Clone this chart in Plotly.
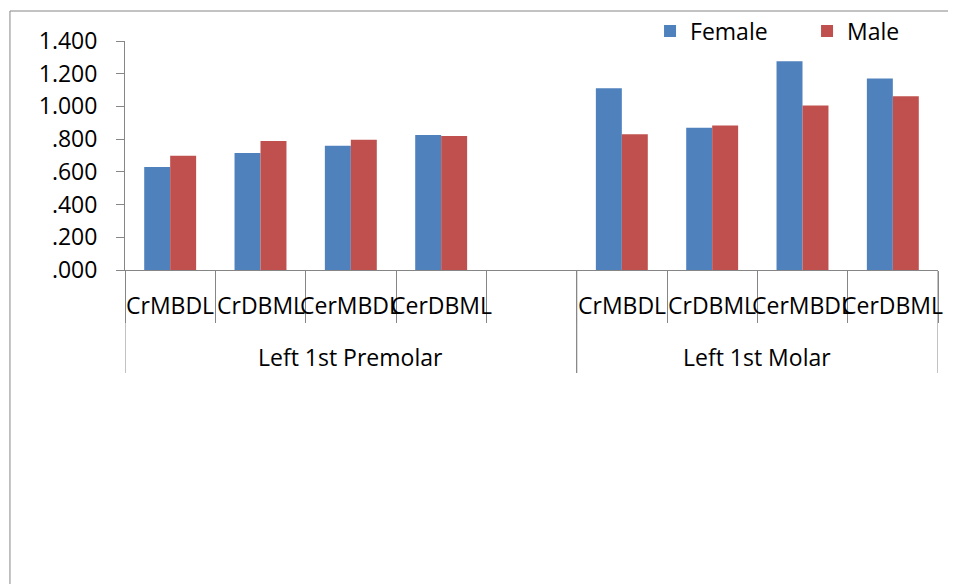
import plotly.graph_objects as go

categories = ["CrMBDL", "CrDBML", "CerMBDL", "CerDBML", "",
              "CrMBDL", "CrDBML", "CerMBDL", "CerDBML"]
groups = ["Left 1st Premolar"] * 5 + ["Left 1st Molar"] * 4
female = [0.629, 0.716, 0.760, 0.825, None, 1.111, 0.870, 1.276, 1.170]
male = [0.699, 0.788, 0.797, 0.819, None, 0.830, 0.884, 1.005, 1.062]
ytick_vals = [0, 0.2, 0.4, 0.6, 0.8, 1.0, 1.2, 1.4]
ytick_text = [".000", ".200", ".400", ".600", ".800", "1.000", "1.200", "1.400"]

FONT = "Open Sans"
FS = 23
AXIS_COLOR = "#868686"
BLUE = "#4F81BD"
RED = "#C0504D"

pos = list(range(len(categories)))
bounds = [p - 0.5 for p in pos] + [pos[-1] + 0.5]

fig = go.Figure()
fig.add_trace(go.Bar(x=pos, y=female, name="Female", marker=dict(color=BLUE, line=dict(width=0))))
fig.add_trace(go.Bar(x=pos, y=male, name="Male", marker=dict(color=RED, line=dict(width=0))))

# category labels
for p, c in zip(pos, categories):
    if c:
        fig.add_annotation(x=p, y=-0.153, xref="x", yref="paper", text=c, showarrow=False,
                           yanchor="middle", xanchor="center",
                           font=dict(family=FONT, size=FS, color="black"))

# group labels and dividers
group_names = []
for g in groups:
    if g not in group_names:
        group_names.append(g)
for g in group_names:
    idx = [p for p, gg in zip(pos, groups) if gg == g]
    fig.add_annotation(x=(idx[0] + idx[-1]) / 2, y=-0.380, xref="x", yref="paper", text=g,
                       showarrow=False, yanchor="middle", xanchor="center",
                       font=dict(family=FONT, size=FS, color="black"))
    for xb in (idx[0] - 0.5, idx[-1] + 0.5):
        fig.add_shape(type="line", xref="x", yref="paper", x0=xb, x1=xb, y0=0, y1=-0.4498,
                      line=dict(color=AXIS_COLOR, width=1))

# outer chart border (left and top edges)
fig.add_shape(type="line", xref="paper", yref="paper", x0=-0.1415, x1=-0.1415, y0=1.131, y1=-1.5,
              line=dict(color=AXIS_COLOR, width=1))
fig.add_shape(type="line", xref="paper", yref="paper", x0=-0.1415, x1=1.1, y0=1.131, y1=1.131,
              line=dict(color=AXIS_COLOR, width=1))

fig.update_layout(
    width=956, height=584,
    margin=dict(l=117, r=26, t=33, b=322, autoexpand=False),
    paper_bgcolor="white", plot_bgcolor="white",
    barmode="group", bargap=0.425, bargroupgap=0,
    font=dict(family=FONT, size=FS, color="black"),
    showlegend=True,
    legend=dict(orientation="h", x=0.6458, xanchor="left", y=1.0437, yanchor="middle",
                font=dict(family=FONT, size=FS, color="black"),
                entrywidth=112, entrywidthmode="pixels",
                bgcolor="rgba(0,0,0,0)", borderwidth=0),
    xaxis=dict(range=[-0.5, pos[-1] + 0.5], tickmode="array", tickvals=bounds,
               ticktext=[""] * len(bounds), ticks="outside", ticklen=52,
               tickcolor=AXIS_COLOR, tickwidth=1, showline=True, linecolor=AXIS_COLOR,
               linewidth=1, showgrid=False, zeroline=False, fixedrange=True),
    yaxis=dict(range=[0, 1.4], tickmode="array", tickvals=ytick_vals, ticktext=ytick_text,
               ticks="outside", ticklen=8, tickcolor=AXIS_COLOR, tickwidth=1,
               showline=True, linecolor=AXIS_COLOR, linewidth=1, showgrid=False,
               zeroline=False, ticklabelstandoff=14,
               tickfont=dict(family=FONT, size=FS, color="black")),
)

fig.write_html("out.html")
